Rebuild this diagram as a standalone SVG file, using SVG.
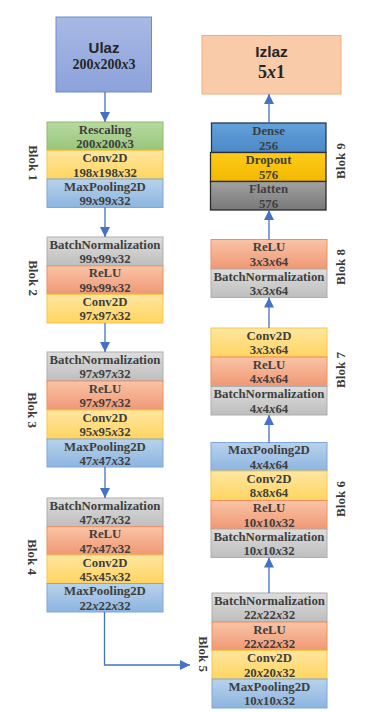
<svg xmlns="http://www.w3.org/2000/svg" width="386" height="712" viewBox="0 0 386 712">
<defs>
<linearGradient id="gGreen" x1="0" y1="0" x2="0" y2="1"><stop offset="0" stop-color="#B7DA9F"/><stop offset="1" stop-color="#98C57B"/></linearGradient>
<linearGradient id="gYellow" x1="0" y1="0" x2="0" y2="1"><stop offset="0" stop-color="#FFE7A0"/><stop offset="1" stop-color="#FFD460"/></linearGradient>
<linearGradient id="gBlue" x1="0" y1="0" x2="0" y2="1"><stop offset="0" stop-color="#B8D2EC"/><stop offset="1" stop-color="#8CB5DF"/></linearGradient>
<linearGradient id="gGray" x1="0" y1="0" x2="0" y2="1"><stop offset="0" stop-color="#DDDDDD"/><stop offset="1" stop-color="#BEBEBE"/></linearGradient>
<linearGradient id="gSalmon" x1="0" y1="0" x2="0" y2="1"><stop offset="0" stop-color="#F9C4A6"/><stop offset="1" stop-color="#F09874"/></linearGradient>
<linearGradient id="gUlaz" x1="0" y1="0" x2="0" y2="1"><stop offset="0" stop-color="#A9B9E5"/><stop offset="1" stop-color="#8CA2DA"/></linearGradient>
<linearGradient id="gDense" x1="0" y1="0" x2="0" y2="1"><stop offset="0" stop-color="#64A2DA"/><stop offset="1" stop-color="#4A88C8"/></linearGradient>
<linearGradient id="gDrop" x1="0" y1="0" x2="0" y2="1"><stop offset="0" stop-color="#FFCB1A"/><stop offset="1" stop-color="#F2B800"/></linearGradient>
<linearGradient id="gFlat" x1="0" y1="0" x2="0" y2="1"><stop offset="0" stop-color="#A2A2A2"/><stop offset="1" stop-color="#787878"/></linearGradient>
<marker id="ah" viewBox="0 0 10 10" refX="10" refY="5" markerWidth="10" markerHeight="10" markerUnits="userSpaceOnUse" orient="auto">
<path d="M0,0 L10,5 L0,10 z" fill="#4472C4"/>
</marker>
</defs>
<style>
.L text{font-family:"Liberation Serif","Times New Roman",serif;font-weight:bold;font-size:12.8px;fill:#3F3F3F;text-anchor:middle}
.green{fill:url(#gGreen);stroke:#8DBA6E;stroke-width:1}
.yellow{fill:url(#gYellow);stroke:#F8C84A;stroke-width:1}
.blue{fill:url(#gBlue);stroke:#7FA8D8;stroke-width:1}
.gray{fill:url(#gGray);stroke:#AEAEAE;stroke-width:1}
.salmon{fill:url(#gSalmon);stroke:#EE8E62;stroke-width:1}
.dense{fill:url(#gDense);stroke:#1F3864;stroke-width:1.3}
.drop{fill:url(#gDrop);stroke:#2E2E2E;stroke-width:1.3}
.flat{fill:url(#gFlat);stroke:#2A2A2A;stroke-width:1.3}
.it{font-style:italic}
.blk{font-family:"Liberation Serif","Times New Roman",serif;font-weight:bold;font-size:13px;fill:#3A3A3A;text-anchor:middle}
.conn{fill:none;stroke:#4472C4;stroke-width:1.3;marker-end:url(#ah)}
</style>

<g id="ulaz">
<rect x="56" y="17" width="95.5" height="75" fill="url(#gUlaz)" stroke="#6E8ACB" stroke-width="1"/>
<text x="104" y="53" font-family="'Liberation Sans',Arial,sans-serif" font-weight="bold" font-size="15" fill="#262626" text-anchor="middle">Ulaz</text>
<text x="104" y="68.5" font-family="'Liberation Serif','Times New Roman',serif" font-weight="bold" font-size="14" fill="#262626" text-anchor="middle">200<tspan class="it">x</tspan>200<tspan class="it">x</tspan>3</text>
</g>

<g id="izlaz">
<rect x="202" y="35.5" width="139" height="58.5" fill="#F9CBA9" stroke="#F2AC7C" stroke-width="1"/>
<text x="271.5" y="56.5" font-family="'Liberation Sans',Arial,sans-serif" font-weight="bold" font-size="15.5" fill="#262626" text-anchor="middle">Izlaz</text>
<text x="271.5" y="77.5" font-family="'Liberation Serif','Times New Roman',serif" font-weight="bold" font-size="18" fill="#262626" text-anchor="middle">5<tspan class="it">x</tspan>1</text>
</g>

<!-- Blok 1 -->
<g id="blok1" class="L">
<rect class="green" x="47" y="122" width="116" height="28.5"/>
<text x="105" y="133.5">Rescaling</text><text x="105" y="148">200<tspan class="it">x</tspan>200<tspan class="it">x</tspan>3</text>
<rect class="yellow" x="47" y="150.5" width="116" height="28.5"/>
<text x="105" y="162">Conv2D</text><text x="105" y="176.5">198<tspan class="it">x</tspan>198<tspan class="it">x</tspan>32</text>
<rect class="blue" x="47" y="179" width="116" height="28.5"/>
<text x="105" y="190.5">MaxPooling2D</text><text x="105" y="205">99<tspan class="it">x</tspan>99<tspan class="it">x</tspan>32</text>
</g>

<!-- Blok 2 -->
<g id="blok2" class="L">
<rect class="gray" x="47" y="237" width="116" height="28.8"/>
<text x="105" y="248.5">BatchNormalization</text><text x="105" y="263">99<tspan class="it">x</tspan>99<tspan class="it">x</tspan>32</text>
<rect class="salmon" x="47" y="265.8" width="116" height="28.6"/>
<text x="105" y="277.3">ReLU</text><text x="105" y="291.8">99<tspan class="it">x</tspan>99<tspan class="it">x</tspan>32</text>
<rect class="yellow" x="47" y="294.4" width="116" height="28.6"/>
<text x="105" y="305.9">Conv2D</text><text x="105" y="320.4">97<tspan class="it">x</tspan>97<tspan class="it">x</tspan>32</text>
</g>

<!-- Blok 3 -->
<g id="blok3" class="L">
<rect class="gray" x="47" y="352" width="116" height="29"/>
<text x="105" y="363.5">BatchNormalization</text><text x="105" y="378">97<tspan class="it">x</tspan>97<tspan class="it">x</tspan>32</text>
<rect class="salmon" x="47" y="381" width="116" height="29"/>
<text x="105" y="392.5">ReLU</text><text x="105" y="407">97<tspan class="it">x</tspan>97<tspan class="it">x</tspan>32</text>
<rect class="yellow" x="47" y="410" width="116" height="29"/>
<text x="105" y="421.5">Conv2D</text><text x="105" y="436">95<tspan class="it">x</tspan>95<tspan class="it">x</tspan>32</text>
<rect class="blue" x="47" y="439" width="116" height="28"/>
<text x="105" y="450.5">MaxPooling2D</text><text x="105" y="465">47<tspan class="it">x</tspan>47<tspan class="it">x</tspan>32</text>
</g>

<!-- Blok 4 -->
<g id="blok4" class="L">
<rect class="gray" x="47" y="498" width="116" height="28.7"/>
<text x="105" y="509.5">BatchNormalization</text><text x="105" y="524">47<tspan class="it">x</tspan>47<tspan class="it">x</tspan>32</text>
<rect class="salmon" x="47" y="526.7" width="116" height="28.3"/>
<text x="105" y="538.2">ReLU</text><text x="105" y="552.7">47<tspan class="it">x</tspan>47<tspan class="it">x</tspan>32</text>
<rect class="yellow" x="47" y="555" width="116" height="28.5"/>
<text x="105" y="566.5">Conv2D</text><text x="105" y="581">45<tspan class="it">x</tspan>45<tspan class="it">x</tspan>32</text>
<rect class="blue" x="47" y="583.5" width="116" height="28.5"/>
<text x="105" y="595">MaxPooling2D</text><text x="105" y="609.5">22<tspan class="it">x</tspan>22<tspan class="it">x</tspan>32</text>
</g>

<!-- Blok 5 -->
<g id="blok5" class="L">
<rect class="gray" x="212" y="593" width="115" height="29"/>
<text x="269.5" y="604.5">BatchNormalization</text><text x="269.5" y="619">22<tspan class="it">x</tspan>22<tspan class="it">x</tspan>32</text>
<rect class="salmon" x="212" y="622" width="115" height="28.5"/>
<text x="269.5" y="633.5">ReLU</text><text x="269.5" y="648">22<tspan class="it">x</tspan>22<tspan class="it">x</tspan>32</text>
<rect class="yellow" x="212" y="650.5" width="115" height="28.5"/>
<text x="269.5" y="662">Conv2D</text><text x="269.5" y="676.5">20<tspan class="it">x</tspan>20<tspan class="it">x</tspan>32</text>
<rect class="blue" x="212" y="679" width="115" height="29"/>
<text x="269.5" y="690.5">MaxPooling2D</text><text x="269.5" y="705">10<tspan class="it">x</tspan>10<tspan class="it">x</tspan>32</text>
</g>

<!-- Blok 6 -->
<g id="blok6" class="L">
<rect class="blue" x="211" y="442.5" width="116" height="28.5"/>
<text x="269" y="454">MaxPooling2D</text><text x="269" y="468.5">4<tspan class="it">x</tspan>4<tspan class="it">x</tspan>64</text>
<rect class="yellow" x="211" y="471" width="116" height="29.5"/>
<text x="269" y="482.5">Conv2D</text><text x="269" y="497">8<tspan class="it">x</tspan>8<tspan class="it">x</tspan>64</text>
<rect class="salmon" x="211" y="500.5" width="116" height="28.5"/>
<text x="269" y="512">ReLU</text><text x="269" y="526.5">10<tspan class="it">x</tspan>10<tspan class="it">x</tspan>32</text>
<rect class="gray" x="211" y="529" width="116" height="28.5"/>
<text x="269" y="540.5">BatchNormalization</text><text x="269" y="555">10<tspan class="it">x</tspan>10<tspan class="it">x</tspan>32</text>
</g>

<!-- Blok 7 -->
<g id="blok7" class="L">
<rect class="yellow" x="211" y="328" width="116" height="29"/>
<text x="269" y="339.5">Conv2D</text><text x="269" y="354">3<tspan class="it">x</tspan>3<tspan class="it">x</tspan>64</text>
<rect class="salmon" x="211" y="357" width="116" height="29.5"/>
<text x="269" y="368.5">ReLU</text><text x="269" y="383">4<tspan class="it">x</tspan>4<tspan class="it">x</tspan>64</text>
<rect class="gray" x="211" y="386.5" width="116" height="28.5"/>
<text x="269" y="398">BatchNormalization</text><text x="269" y="412.5">4<tspan class="it">x</tspan>4<tspan class="it">x</tspan>64</text>
</g>

<!-- Blok 8 -->
<g id="blok8" class="L">
<rect class="salmon" x="211" y="239.5" width="116" height="29.5"/>
<text x="269" y="251">ReLU</text><text x="269" y="265.5">3<tspan class="it">x</tspan>3<tspan class="it">x</tspan>64</text>
<rect class="gray" x="211" y="269" width="116" height="28.5"/>
<text x="269" y="280.5">BatchNormalization</text><text x="269" y="295">3<tspan class="it">x</tspan>3<tspan class="it">x</tspan>64</text>
</g>

<!-- Blok 9 -->
<g id="blok9" class="L">
<rect class="dense" x="211.5" y="123" width="114.5" height="29.5"/>
<text x="268.5" y="135">Dense</text><text x="268.5" y="149.5">256</text>
<rect class="drop" x="210.5" y="152.5" width="115.5" height="29"/>
<text x="268.5" y="164">Dropout</text><text x="268.5" y="178.5">576</text>
<rect class="flat" x="210.5" y="181.5" width="115.5" height="28.5"/>
<text x="268.5" y="193">Flatten</text><text x="268.5" y="207.5">576</text>
</g>

<!-- Block labels -->
<g id="labels">
<text class="blk" transform="translate(33,163) rotate(90)" y="4">Blok 1</text>
<text class="blk" transform="translate(33,278) rotate(90)" y="4">Blok 2</text>
<text class="blk" transform="translate(32,410) rotate(90)" y="4">Blok 3</text>
<text class="blk" transform="translate(32,557) rotate(90)" y="4">Blok 4</text>
<text class="blk" transform="translate(203,654) rotate(90)" y="4">Blok 5</text>
<text class="blk" transform="translate(341,499) rotate(-90)" y="4">Blok 6</text>
<text class="blk" transform="translate(341,370) rotate(-90)" y="4">Blok 7</text>
<text class="blk" transform="translate(341,267) rotate(-90)" y="4">Blok 8</text>
<text class="blk" transform="translate(341,161) rotate(-90)" y="4">Blok 9</text>
</g>

<g id="connectors">
<path class="conn" d="M105,92 L105,122"/>
<path class="conn" d="M105,207.5 L105,237"/>
<path class="conn" d="M105,323 L105,352"/>
<path class="conn" d="M105,467 L105,498"/>
<path class="conn" d="M104.5,612 L104.5,665 L190,665"/>
<path class="conn" d="M269,593 L269,557.5"/>
<path class="conn" d="M269,442.5 L269,415"/>
<path class="conn" d="M269,328 L269,297.5"/>
<path class="conn" d="M269,239.5 L269,210"/>
<path class="conn" d="M269,123 L269,94"/>
</g>
</svg>
